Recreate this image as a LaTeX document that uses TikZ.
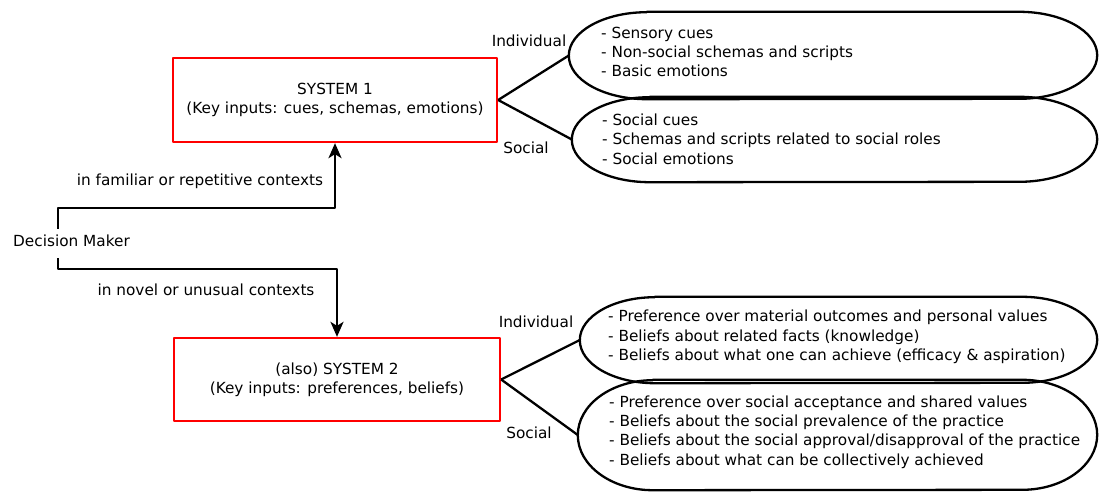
\documentclass[tikz,border=0pt]{standalone}
\usepackage{fontspec}
\setmainfont{DejaVu Sans}
\usetikzlibrary{arrows.meta,positioning}

\tikzset{
  sysbox/.style={draw=red, line width=2.3pt, fill=white, align=center, inner sep=0pt},
  pill/.style={draw=none, inner sep=0pt},
  pilltext/.style={anchor=west, align=left, inner sep=0pt},
  conn/.style={line width=2.3pt},
  arr/.style={conn, -{Stealth[length=15pt, width=13pt, inset=4pt]}},
  lbl/.style={inner sep=0pt},
}
% outline of a pill: node name, x radius, y radius
\newcommand{\pillline}[3]{%
  \draw[conn] ([xshift=#2pt]#1.north west) -- ([xshift=-#2pt]#1.north east)
    arc[start angle=-90, end angle=90, x radius=#2, y radius=#3]
    -- ([xshift=#2pt]#1.south west)
    arc[start angle=90, end angle=270, x radius=#2, y radius=#3] -- cycle;}

\begin{document}
\begin{tikzpicture}[x=1pt, y=-1pt, font=\fontsize{15.3}{19.3}\selectfont, line join=round]
  \useasboundingbox (0,0) rectangle (1099,492);

  % the two systems
  \node[sysbox, minimum width=324pt, minimum height=84pt] (sys1) at (335,100)
    {SYSTEM 1\\(Key inputs: cues, schemas, emotions)};
  \node[sysbox, minimum width=326pt, minimum height=83pt] (sys2) at (337,379.5)
    {(also) SYSTEM 2\\(Key inputs: preferences, beliefs)};

  % decision maker and its two routes
  \node[lbl] (dm) at (71.5,241) {Decision Maker};
  \draw[arr] ([xshift=-13.5pt, yshift=6pt]dm.north) -- ++(0,-21) -| (sys1.south);
  \draw[arr] ([xshift=-13.5pt, yshift=-11pt]dm.south) -- ++(0,11) -| (sys2.north);
  \node[lbl] (fam) at (200,181) {in familiar or repetitive contexts};
  \node[lbl] (nov) at (206,290) {in novel or unusual contexts};

  % inputs of system 1
  \node[pill, minimum width=528pt, minimum height=87pt] (e1) at (833,55.5) {};
  \node[pill, minimum width=525pt, minimum height=85pt] (e2) at (834.5,139.5) {};
  \pillline{e1}{78}{43.5}
  \pillline{e2}{78}{42.5}
  \node[pilltext] (t1) at (601,52)
    {- Sensory cues\\- Non-social schemas and scripts\\- Basic emotions};
  \node[pilltext] (t2) at (602,139)
    {- Social cues\\- Schemas and scripts related to social roles\\- Social emotions};
  \draw[conn] (sys1.east) -- (e1.west);
  \draw[conn] (sys1.east) -- (e2.west);
  \node[lbl] (ind1) at (529,41) {Individual};
  \node[lbl] (soc1) at (526,148) {Social};

  % inputs of system 2
  \node[pill, minimum width=517pt, minimum height=86pt] (e3) at (838.5,340) {};
  \node[pill, minimum width=519pt, minimum height=110pt] (e4) at (837.5,435) {};
  \pillline{e3}{75}{43}
  \pillline{e4}{75}{55}
  \node[pilltext] (t3) at (608,337)
    {- Preference over material outcomes and personal values\\- Beliefs about related facts (knowledge)\\- Beliefs about what one can achieve (efficacy \& aspiration)};
  \node[pilltext] (t4) at (609,432)
    {- Preference over social acceptance and shared values\\- Beliefs about the social prevalence of the practice\\- Beliefs about the social approval/disapproval of the practice\\- Beliefs about what can be collectively achieved};
  \draw[conn] (sys2.east) -- (e3.west);
  \draw[conn] (sys2.east) -- (e4.west);
  \node[lbl] (ind2) at (536,322) {Individual};
  \node[lbl] (soc2) at (529,433) {Social};
\end{tikzpicture}
\end{document}
